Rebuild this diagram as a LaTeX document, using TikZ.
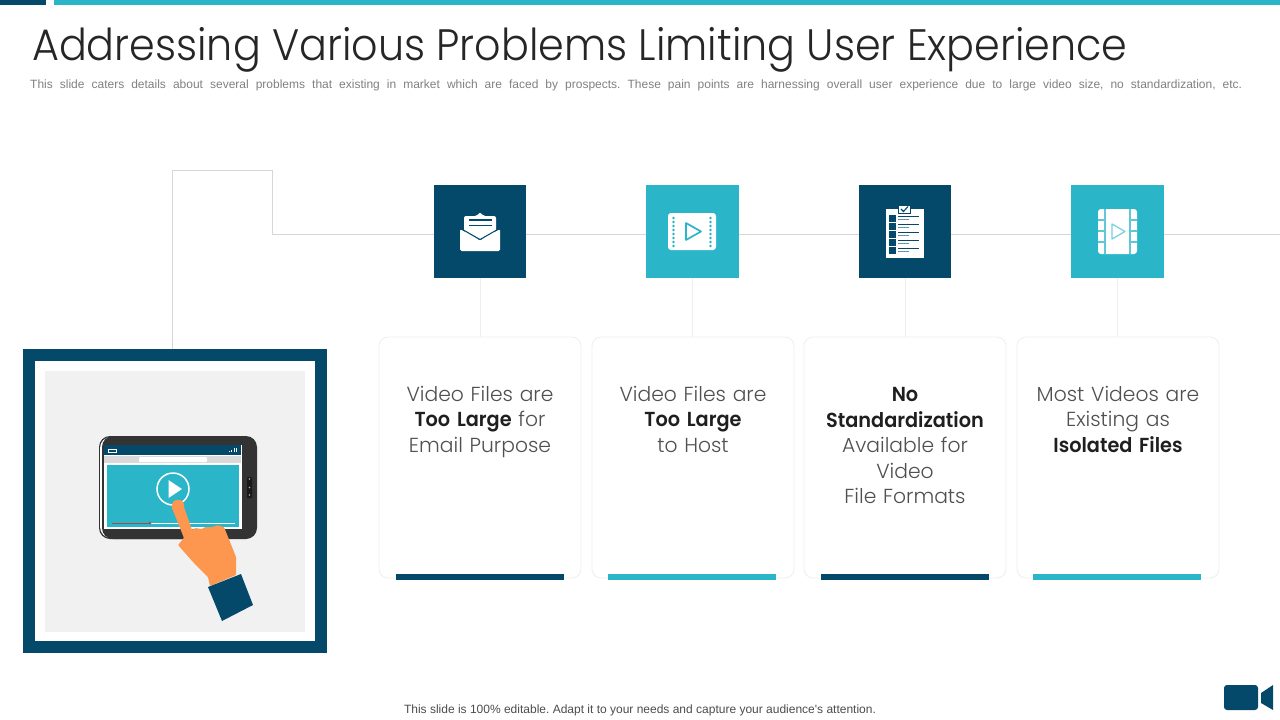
\documentclass[tikz,border=0pt]{standalone}
\usepackage{xcolor}
\usepackage{fontspec}
\setmainfont{Poppins}[UprightFont=* Light,BoldFont=* SemiBold,BoldFeatures={FakeStretch=0.95}]
\newfontfamily\titrefont{Poppins Light}[FakeStretch=0.938]
\newfontfamily\arialfont{Liberation Sans}
\usetikzlibrary{positioning, backgrounds}
\definecolor{navyblue}{RGB}{5,73,106}
\definecolor{tealblue}{RGB}{43,181,201}
\definecolor{railgray}{RGB}{214,214,214}
\definecolor{cardgray}{RGB}{238,238,238}
\definecolor{inkgray}{RGB}{80,80,80}
\definecolor{padgray}{RGB}{241,241,242}
\definecolor{skinorange}{RGB}{253,150,78}
\newcommand{\fort}[1]{\textbf{\color{black!88}#1}}
\tikzset{
    iconbox/.style={rectangle,minimum width=92.5pt,minimum height=93pt,inner sep=0pt},
    cardbox/.style={rectangle,draw=cardgray,fill=white,minimum width=202pt,minimum height=241pt,rounded corners=9pt,line width=0.8pt},
    cardbar/.style={rectangle,minimum width=168pt,minimum height=6pt,inner sep=0pt},
    cardtext/.style={font=\fontsize{20.3}{25.6}\selectfont,text=inkgray,text width=196pt,align=center,inner sep=0pt},
    rail/.style={draw=railgray,line width=0.9pt},
    stem/.style={draw=cardgray,line width=0.9pt}
}

\begin{document}
\frenchspacing
\begin{tikzpicture}[x=1pt,y=-1pt]
    \useasboundingbox (0,0) rectangle (1280,720);

    % Bande haut
    \fill[navyblue] (0,0) rectangle (46,5);
    \fill[tealblue] (54,0) rectangle (1280,5);

    % Titre
    \node[font=\titrefont\fontsize{44}{50}\selectfont,text=black!85,anchor=base west,inner sep=0pt] (titre) at (32,60) {Addressing Various Problems Limiting User Experience};
    \node[font=\arialfont\fontsize{12}{14}\selectfont,text=black!50,anchor=base west,inner sep=0pt] (soustitre) at (30,88) {\makebox[1212pt][s]{This slide caters details about several  problems that existing in market which are faced by prospects. These pain points are harnessing overall  user experience due to large video size, no standardization,  etc.}};

    % Cadre
    \node[rectangle,draw=navyblue,fill=white,line width=12pt,minimum width=292pt,minimum height=292pt] (cadre) at (175,501) {};
    \node[rectangle,fill=padgray,minimum width=260pt,minimum height=261pt] (fond) at (175,501.5) {};

    % Icones
    \node[iconbox,fill=navyblue] (iconea) at (480,231.5) {};
    \node[iconbox,fill=tealblue] (iconeb) at (692.5,231.5) {};
    \node[iconbox,fill=navyblue] (iconec) at (905,231.5) {};
    \node[iconbox,fill=tealblue] (iconed) at (1117.5,231.5) {};

    % Cartes
    \node[cardbox] (cartea) at (480,457.5) {};
    \node[cardbox] (carteb) at (693,457.5) {};
    \node[cardbox] (cartec) at (905,457.5) {};
    \node[cardbox] (carted) at (1118,457.5) {};
    \node[cardbar,fill=navyblue] (barrea) at (480,577) {};
    \node[cardbar,fill=tealblue] (barreb) at (692,577) {};
    \node[cardbar,fill=navyblue] (barrec) at (905,577) {};
    \node[cardbar,fill=tealblue] (barred) at (1117,577) {};

    % Textes
    \node[cardtext] (textea) at (cartea.north) [below=49pt] {Video Files are\\\fort{Too Large} for\\Email Purpose};
    \node[cardtext] (texteb) at (carteb.north) [below=49pt] {Video Files are\\\fort{Too Large}\\to Host};
    \node[cardtext] (textec) at (cartec.north) [below=50.5pt] {\fort{No}\\\fort{Standardization}\\Available for\\Video\\File Formats};
    \node[cardtext] (texted) at (carted.north) [below=49pt] {Most Videos are\\Existing  as\\\fort{Isolated Files}};

    % Lignes
    \coordinate (coina) at (172,170);
    \coordinate (coinb) at (272,170);
    \coordinate (coinc) at (272,234.5);
    \coordinate (fin) at (1280,234.5);
    \draw[rail] (cadre.north -| coina) -- (coina) -- (coinb) -- (coinc) -- (iconea.west |- coinc);
    \draw[rail] (iconea.east |- coinc) -- (iconeb.west |- coinc);
    \draw[rail] (iconeb.east |- coinc) -- (iconec.west |- coinc);
    \draw[rail] (iconec.east |- coinc) -- (iconed.west |- coinc);
    \draw[rail] (iconed.east |- coinc) -- (fin);
    \draw[stem] (iconea.south) -- (cartea.north);
    \draw[stem] (iconeb.south) -- (carteb.north -| iconeb.south);
    \draw[stem] (iconec.south) -- (cartec.north);
    \draw[stem] (iconed.south) -- (carted.north -| iconed.south);

    % Enveloppe
    \fill[white,rounded corners=2pt] (464,232) -- (464,216) -- (477,216) -- (480,212) -- (483,216) -- (496,216) -- (496,232) -- (480,240) -- cycle;
    \draw[navyblue,line width=1.2pt] (469,220) -- (492,220) (469,225.5) -- (492,225.5);
    \fill[white,rounded corners=1.5pt] (460,229) -- (480,240.5) -- (500,229) -- (500,251) -- (460,251) -- cycle;
    \draw[navyblue,line width=1pt,line join=round] (459,227.5) -- (480,239.5) -- (501,227.5);

    % Film
    \fill[white,rounded corners=3pt] (668,213) rectangle (716,250);
    \foreach \h in {218,222,...,246} {
        \fill[tealblue] (673.5,\h) circle (1.35pt);
        \fill[tealblue] (710.5,\h) circle (1.35pt);
    }
    \draw[tealblue,line width=1.7pt,line join=round] (686,223) -- (701,231.5) -- (686,240) -- cycle;

    % Liste
    \fill[white] (886,209) rectangle (924,258);
    \draw[navyblue,fill=white,line width=1pt] (898,205) rectangle (910,213);
    \draw[navyblue,line width=1.1pt] (901,209) -- (903.5,211.5) -- (908,206.5);
    \foreach \h in {215,223,231,239,247} {
        \fill[navyblue] (889,\h) rectangle (896,\h+7);
        \draw[navyblue,line width=1.1pt] (898,\h+1.5) -- (919,\h+1.5);
        \draw[navyblue!60,line width=1.1pt] (898,\h+4.2) -- (909,\h+4.2);
    }

    % Bobine
    \fill[white,rounded corners=3pt] (1098,209) rectangle (1137,254);
    \draw[tealblue!75,line width=1.3pt] (1105,209) -- (1105,254) (1130,209) -- (1130,254);
    \foreach \h in {220,231,242} {
        \draw[tealblue!75,line width=1.3pt] (1098,\h) -- (1105,\h) (1130,\h) -- (1137,\h);
    }
    \draw[tealblue!65,line width=1.2pt,line join=round] (1112,224) -- (1125,231.5) -- (1112,239) -- cycle;

    % Tablette
    \fill[black!80,rounded corners=11pt] (99,436) rectangle (240,539);
    \fill[white,rounded corners=11pt] (100,437) rectangle (240,538);
    \fill[black!80,rounded corners=11pt] (102,436) rectangle (257,539);
    \fill[white] (103.5,445) rectangle (241.5,529);
    \fill[navyblue] (103.5,445) rectangle (241,455);
    \fill[black!15] (103.5,456) rectangle (241,463);
    \fill[white,rounded corners=1pt] (139,457) rectangle (207,462);
    \fill[tealblue] (107,465) rectangle (239,527);
    \draw[white,line width=0.9pt] (108.5,449) rectangle (116.5,452);
    \draw[white,line width=1pt] (229,452) -- (229,450.5) (231.5,452) -- (231.5,449.5) (234,452) -- (234,448) (236.5,452) -- (236.5,448);
    \draw[white,line width=1pt] (112,523) -- (235,523);
    \draw[red!50!black!70,line width=1pt] (112,523) -- (150,523);
    \fill[red!50!black!70] (150,523) circle (1.5pt);
    \draw[white,line width=1.5pt] (173,489) circle (16);
    \fill[white] (168.5,480) -- (182,489) -- (168.5,498) -- cycle;
    \fill[black!90,rounded corners=1pt] (247,477) rectangle (252,498);
    \foreach \h in {479,487.5,495} {
        \fill[white!70!black] (249.5,\h) circle (0.8pt);
    }

    % Main
    \fill[skinorange,rounded corners=1pt] (172,508) -- (184,538) -- (178,545) -- (193,562) -- (208,577) -- (210,586) -- (236,575) -- (236,557) -- (224,527) -- (217,525) -- (213,527) -- (205,527) -- (202,529) -- (195,528) -- (192,530) -- (184,507) -- cycle;
    \fill[skinorange] (178,506) circle (6.3);
    \fill[navyblue] (208,587) -- (241,574) -- (253,605) -- (222,621) -- cycle;

    % Bas de page
    \node[font=\arialfont\fontsize{12}{14}\selectfont,text=black!70,anchor=base,inner sep=0pt] (pied) at (640,713) {This slide is 100\% editable. Adapt it to your needs and capture your audience's attention.};

    % Camera
    \fill[navyblue,rounded corners=3pt] (1224,685) rectangle (1258,710);
    \fill[navyblue] (1261,693) -- (1273,685) -- (1273,710) -- (1261,703) -- cycle;
\end{tikzpicture}
\end{document}
